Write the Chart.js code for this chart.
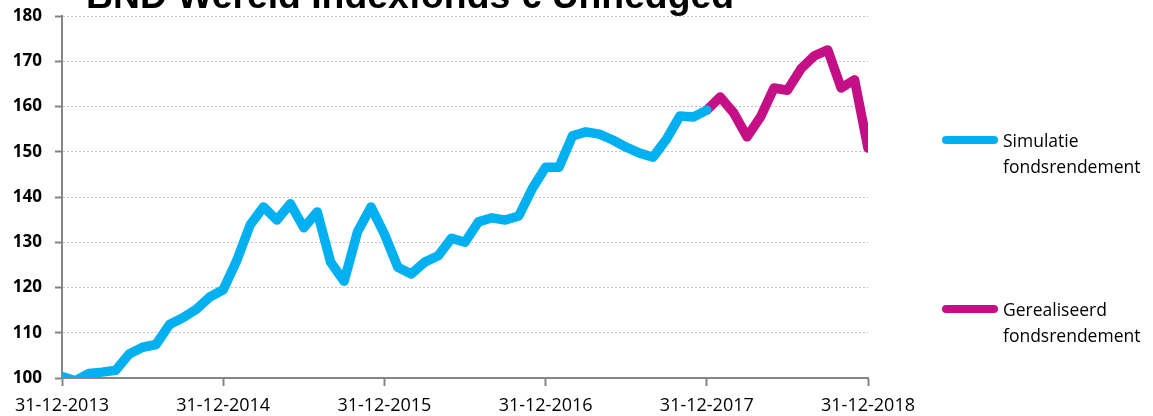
<!DOCTYPE html>
<html lang="nl">
<head>
<meta charset="utf-8">
<title>BND Wereld Indexfonds € Unhedged</title>
<script src="https://cdn.jsdelivr.net/npm/chart.js@4.4.1/dist/chart.umd.min.js"></script>
<style>
  html, body { margin: 0; padding: 0; background: #fff; }
  #wrap { position: relative; width: 1153px; height: 416px; overflow: hidden; }
  .legend-item { position: absolute; left: 942px; font: 17.5px "Open Sans", sans-serif; color: #000; line-height: 26px; }
  .legend-line { position: absolute; left: 0; top: 9px; width: 56px; height: 8px; border-radius: 4px; }
  .legend-text { position: absolute; left: 61px; white-space: nowrap; }
</style>
</head>
<body>
<div id="wrap">
  <canvas id="grafiek"></canvas>
  <div class="legend-item" style="top:127px">
    <span class="legend-line" style="background:#00B0F0"></span>
    <div class="legend-text">Simulatie<br>fondsrendement</div>
  </div>
  <div class="legend-item" style="top:296px">
    <span class="legend-line" style="background:#C40F87"></span>
    <div class="legend-text">Gerealiseerd<br>fondsrendement</div>
  </div>
</div>
<script>
const titel = 'BND Wereld Indexfonds € Unhedged';

// maandeinden dec 2013 t/m dec 2018
const maanden = [
  '31-12-2013',
  '31-01-2014', '28-02-2014', '31-03-2014', '30-04-2014', '31-05-2014', '30-06-2014',
  '31-07-2014', '31-08-2014', '30-09-2014', '31-10-2014', '30-11-2014', '31-12-2014',
  '31-01-2015', '28-02-2015', '31-03-2015', '30-04-2015', '31-05-2015', '30-06-2015',
  '31-07-2015', '31-08-2015', '30-09-2015', '31-10-2015', '30-11-2015', '31-12-2015',
  '31-01-2016', '29-02-2016', '31-03-2016', '30-04-2016', '31-05-2016', '30-06-2016',
  '31-07-2016', '31-08-2016', '30-09-2016', '31-10-2016', '30-11-2016', '31-12-2016',
  '31-01-2017', '28-02-2017', '31-03-2017', '30-04-2017', '31-05-2017', '30-06-2017',
  '31-07-2017', '31-08-2017', '30-09-2017', '31-10-2017', '30-11-2017', '31-12-2017',
  '31-01-2018', '28-02-2018', '31-03-2018', '30-04-2018', '31-05-2018', '30-06-2018',
  '31-07-2018', '31-08-2018', '30-09-2018', '31-10-2018', '30-11-2018', '31-12-2018'
];
const asLabels = ['31-12-2013', '31-12-2014', '31-12-2015', '31-12-2016', '31-12-2017', '31-12-2018'];

// simulatie: dec 2013 t/m dec 2017
const simulatie = [
  100.3, 99.4, 101.0, 101.3, 101.7, 105.3, 106.8, 107.4, 111.8, 113.3, 115.2, 117.9,
  119.5, 125.9, 133.8, 137.8, 134.9, 138.5, 133.2, 136.7, 125.6, 121.4, 132.3, 137.8,
  131.8, 124.5, 123.0, 125.6, 127.0, 130.9, 130.0, 134.5, 135.4, 134.9, 135.8, 141.8,
  146.6, 146.6, 153.5, 154.4, 153.9, 152.6, 151.0, 149.7, 148.8, 152.8, 157.9, 157.7,
  159.2
];
// gerealiseerd: dec 2017 t/m dec 2018
const gerealiseerd = [
  159.2, 162.1, 158.6, 153.3, 157.7, 164.1, 163.6, 168.3, 171.2, 172.5, 164.1, 165.9, 150.8
];

const yTicks = { min: 100, max: 180, stap: 10 };

// opvullen met null zodat beide reeksen op dezelfde as liggen
const dataSim = maanden.map((m, i) => i < simulatie.length ? simulatie[i] : null);
const startGer = maanden.length - gerealiseerd.length;
const dataGer = maanden.map((m, i) => i >= startGer ? gerealiseerd[i - startGer] : null);

const titelPlugin = {
  id: 'titel',
  afterDraw(chart) {
    const ctx = chart.ctx;
    ctx.save();
    ctx.font = 'bold 36px "Liberation Sans", sans-serif';
    const size = 36 * 648 / ctx.measureText(titel).width;
    ctx.font = `bold ${size}px "Liberation Sans", sans-serif`;
    ctx.fillStyle = '#000';
    ctx.textAlign = 'center';
    ctx.textBaseline = 'alphabetic';
    ctx.fillText(titel, 410, 8);
    ctx.restore();
  }
};

const asKleur = '#868686';

new Chart(document.getElementById('grafiek'), {
  type: 'line',
  data: {
    labels: maanden,
    datasets: [
      { label: 'Simulatie fondsrendement', data: dataSim, borderColor: '#00B0F0', borderWidth: 9.5, clip: 0 },
      { label: 'Gerealiseerd fondsrendement', data: dataGer, borderColor: '#C40F87', borderWidth: 9.5, clip: 0 }
    ]
  },
  options: {
    responsive: true,
    maintainAspectRatio: false,
    animation: false,
    layout: { padding: { top: 16, right: 285, left: 0, bottom: 0 } },
    elements: {
      point: { radius: 0 },
      line: { tension: 0, borderJoinStyle: 'round', borderCapStyle: 'round' }
    },
    plugins: {
      legend: { display: false },
      tooltip: { enabled: false }
    },
    scales: {
      x: {
        type: 'category',
        offset: false,
        grid: { drawOnChartArea: false, tickLength: 8, tickColor: asKleur, tickWidth: 2 },
        border: { color: asKleur, width: 2 },
        ticks: {
          autoSkip: false, maxRotation: 0, padding: 9, color: '#000',
          font: { family: 'Open Sans', size: 18 }
        },
        afterBuildTicks: s => {
          const labels = s.getLabels();
          s.ticks = s.ticks.filter(t => asLabels.includes(labels[t.value]));
        },
        afterFit: s => { s.height = 38; }
      },
      y: {
        min: yTicks.min,
        max: yTicks.max,
        ticks: {
          stepSize: yTicks.stap, padding: 13, color: '#000',
          font: { family: 'Open Sans', size: 17, weight: 'bold' }
        },
        grid: { color: '#C4C4C4', lineWidth: 1, tickColor: asKleur, tickLength: 7, tickWidth: 2 },
        border: { color: asKleur, width: 2, dash: [2, 2] },
        afterFit: s => { s.width = 62; s.paddingTop = 0; s.paddingBottom = 0; }
      }
    }
  },
  plugins: [titelPlugin]
});
</script>
</body>
</html>
